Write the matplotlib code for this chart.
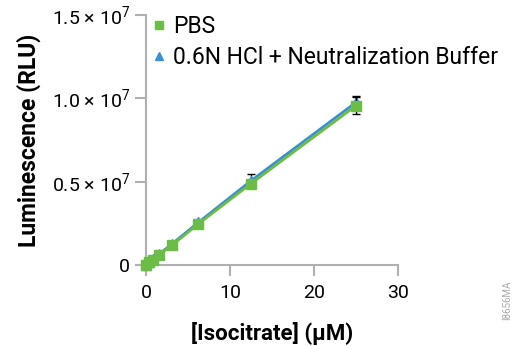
import matplotlib.pyplot as plt
from matplotlib.lines import Line2D

plt.rcParams['font.family'] = ['Roboto', 'DejaVu Sans']
plt.rcParams['mathtext.fontset'] = 'custom'
plt.rcParams['mathtext.rm'] = 'Roboto'

# isocitrate concentrations (uM)
conc = [0, 0.39, 0.78, 1.56, 3.125, 6.25, 12.5, 25]
# luminescence (RLU)
pbs = [0, 0.016e7, 0.032e7, 0.062e7, 0.12e7, 0.247e7, 0.488e7, 0.955e7]
pbs_err = [0, 0.003e7, 0.003e7, 0.004e7, 0.006e7, 0.01e7, 0.015e7, 0.05e7]
hcl = [0, 0.017e7, 0.034e7, 0.065e7, 0.128e7, 0.256e7, 0.505e7, 0.975e7]
hcl_err = [0, 0.003e7, 0.004e7, 0.005e7, 0.008e7, 0.015e7, 0.04e7, 0.04e7]

green = '#6cbd45'
blue = '#3b8fd3'

fig = plt.figure(figsize=(5.16, 3.46), dpi=100)
ax = fig.add_axes([0.283, 0.234, 0.488, 0.723])

ax.errorbar(conc, hcl, yerr=hcl_err, color=blue, lw=2, marker='^', ms=7,
            ecolor='black', elinewidth=1, capsize=3, zorder=2, clip_on=False)
ax.errorbar(conc, pbs, yerr=pbs_err, color=green, lw=2, marker='s', ms=7,
            ecolor='black', elinewidth=1, capsize=3, zorder=3, clip_on=False)

ax.set_xlim(0, 30)
ax.set_ylim(0, 1.5e7)
ax.set_xticks([0, 10, 20, 30])
ax.set_yticks([0, 0.5e7, 1.0e7, 1.5e7])
ax.set_yticklabels(['0', r'0.5 × 10$^{7}$', r'1.0 × 10$^{7}$', r'1.5 × 10$^{7}$'])
ax.spines['top'].set_visible(False)
ax.spines['right'].set_visible(False)
for s in ['left', 'bottom']:
    ax.spines[s].set_color('#b0b0b0')
    ax.spines[s].set_linewidth(1.5)
ax.tick_params(colors='#b0b0b0', width=1.5, length=8, labelcolor='black', labelsize=14)
ax.tick_params(axis='x', pad=6)

ax.set_xlabel('[Isocitrate] (μM)', fontsize=16, fontweight='bold', labelpad=14)
ax.set_ylabel('Luminescence (RLU)', fontsize=16.5, fontweight='bold', labelpad=8)

handles = [Line2D([], [], color=green, marker='s', ls='none', ms=6),
           Line2D([], [], color=blue, marker='^', ls='none', ms=6)]
ax.legend(handles, ['PBS', '0.6N HCl + Neutralization Buffer'], loc='upper left',
          bbox_to_anchor=(-0.038, 1.065), frameon=False, fontsize=16.5,
          handlelength=0.6, handletextpad=0.3, labelspacing=0.38, borderaxespad=0.3)

fig.text(0.982, 0.133, 'I8656MA', rotation=90, fontsize=7, color='#aaaaaa',
         ha='center', va='center')

fig.savefig('out.png', dpi=100)
